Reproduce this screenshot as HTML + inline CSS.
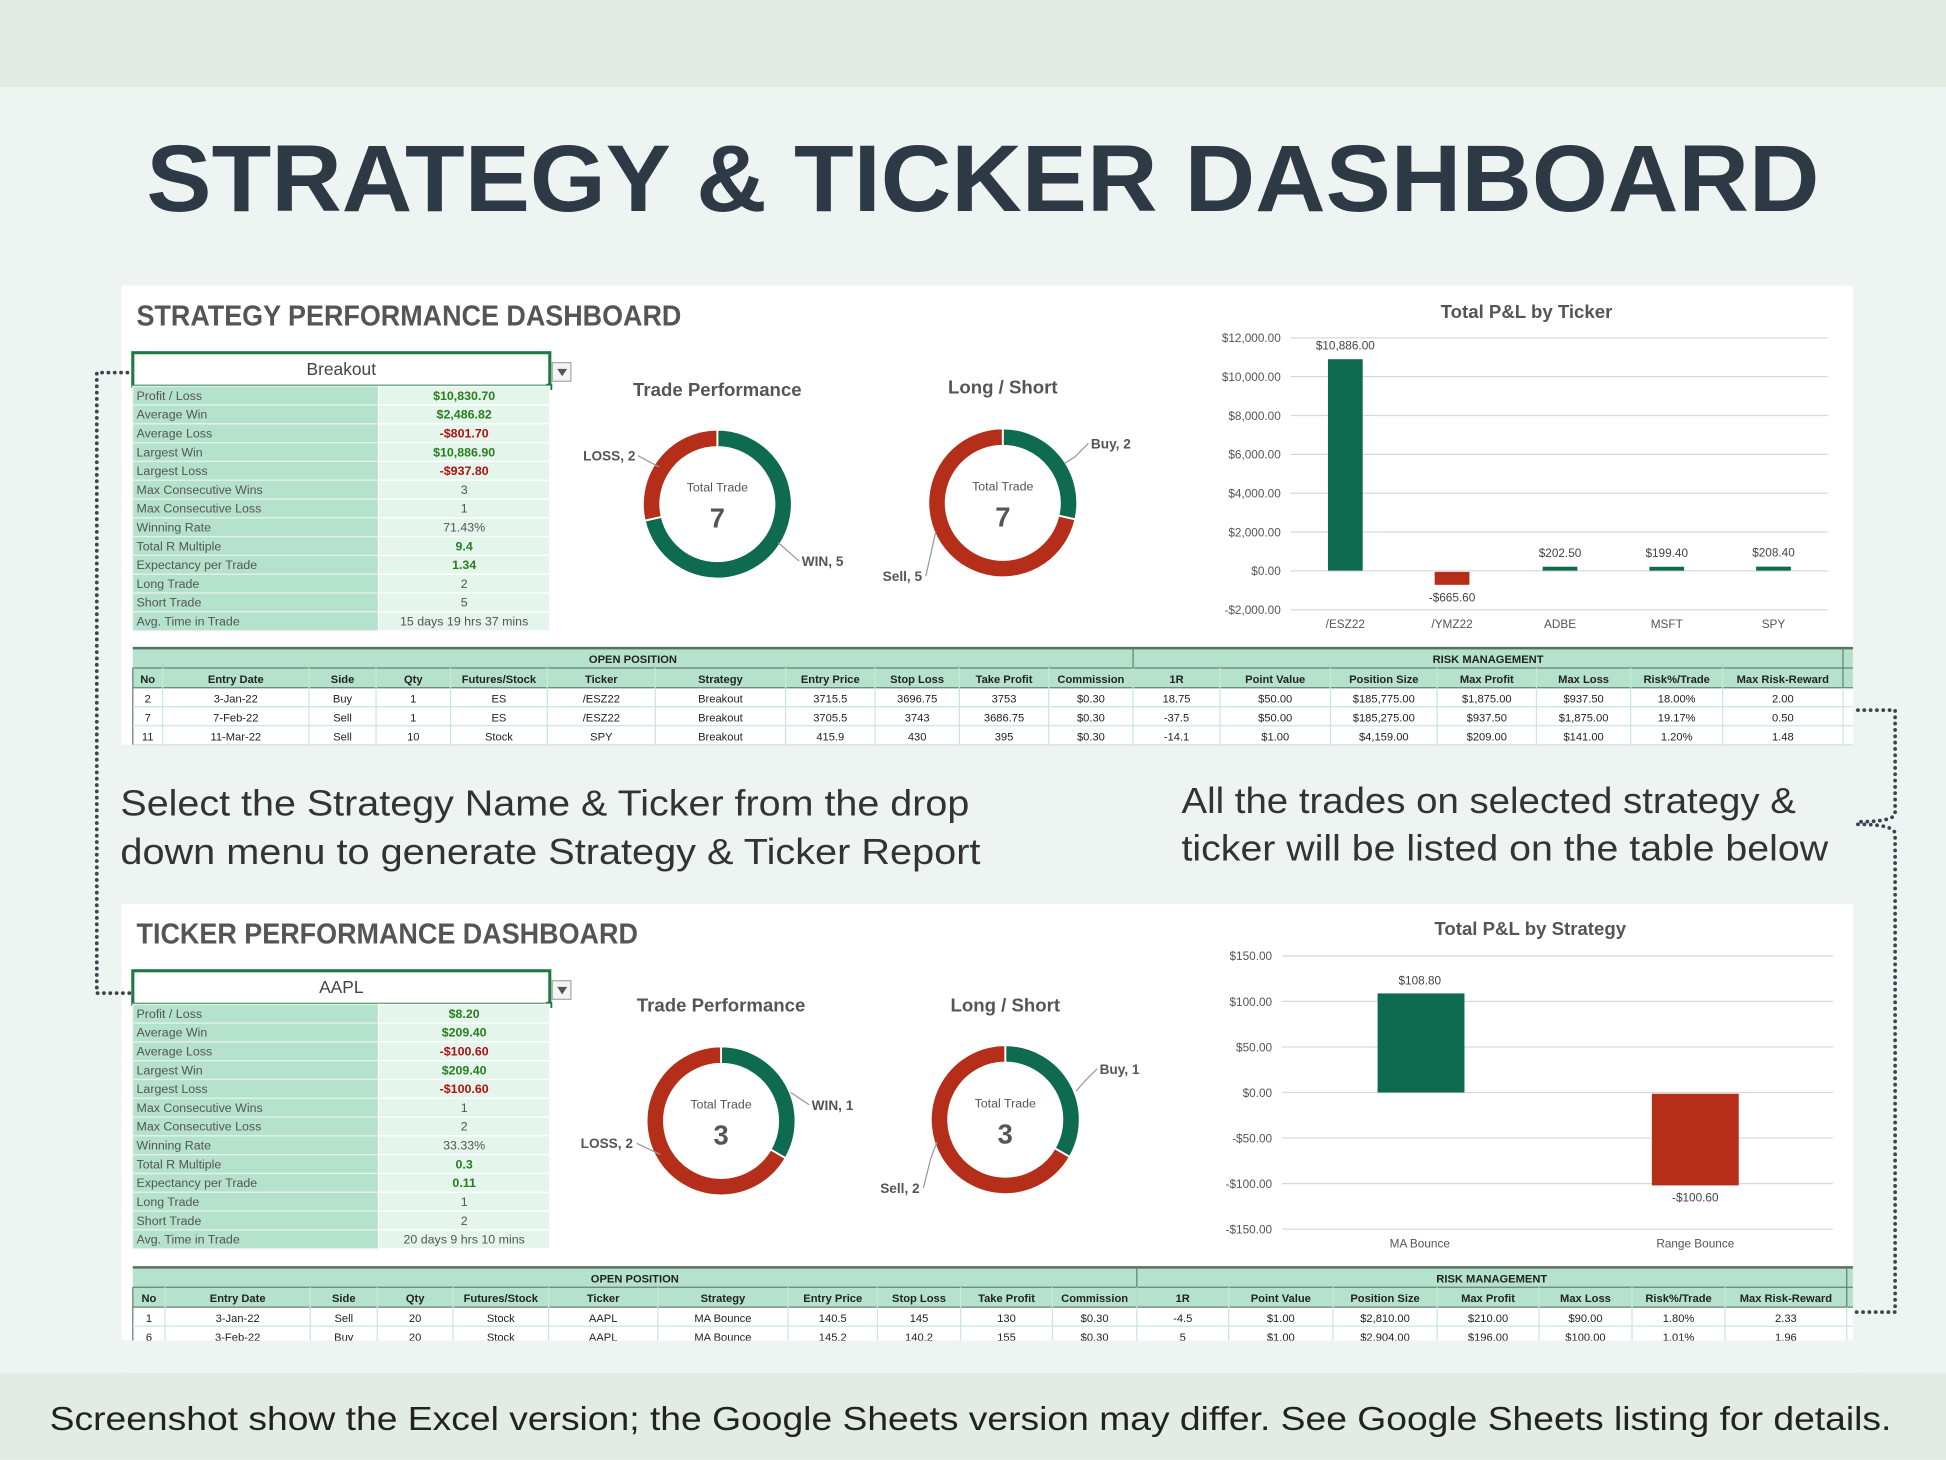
<!DOCTYPE html>
<html><head><meta charset="utf-8"><style>
html,body{margin:0;padding:0;background:#eef4f1;}
svg{display:block}
text{font-family:"Liberation Sans",sans-serif}
.n{font-family:"Liberation Sans Narrow","Liberation Sans",sans-serif}
</style></head><body>
<svg id="s" width="1946" height="1460" viewBox="0 0 1568 1176" xmlns="http://www.w3.org/2000/svg">
<rect width="1568" height="1176" fill="#eef4f1"/>
<rect width="1568" height="70" fill="#e2ece5"/>
<rect y="1106" width="1568" height="70" fill="#e2ece5"/>
<text x="792" y="170" text-anchor="middle" font-size="76" font-weight="bold" fill="#2d3945" textLength="1348" lengthAdjust="spacingAndGlyphs">STRATEGY &amp; TICKER DASHBOARD</text>
<rect x="98" y="230" width="1395" height="370" fill="#fff"/>
<rect x="98" y="728" width="1395" height="352" fill="#fff"/>
<text x="110" y="262" font-size="23" font-weight="bold" fill="#555" class="n" textLength="439" lengthAdjust="spacingAndGlyphs">STRATEGY PERFORMANCE DASHBOARD</text>
<text x="110" y="760" font-size="23" font-weight="bold" fill="#555" class="n" textLength="404" lengthAdjust="spacingAndGlyphs">TICKER PERFORMANCE DASHBOARD</text>
<g fill="#333" font-size="29">
<text x="97" y="657" textLength="684" lengthAdjust="spacingAndGlyphs">Select the Strategy Name &amp; Ticker from the drop</text>
<text x="97" y="696" textLength="693" lengthAdjust="spacingAndGlyphs">down menu to generate Strategy &amp; Ticker Report</text>
<text x="952" y="655" textLength="495" lengthAdjust="spacingAndGlyphs">All the trades on selected strategy &amp;</text>
<text x="952" y="693" textLength="521" lengthAdjust="spacingAndGlyphs">ticker will be listed on the table below</text>
</g>
<text x="40" y="1152" font-size="27" fill="#222" textLength="1484" lengthAdjust="spacingAndGlyphs">Screenshot show the Excel version; the Google Sheets version may differ.   See Google Sheets listing for details.</text>
<g fill="none" stroke="#3a4550" stroke-width="3" stroke-dasharray="0.1 5" stroke-linecap="round">
<path d="M118 300 H78 V800 H118"/>
<path d="M1497 572 H1527 V655 Q1527 662 1495 662"/>
<path d="M1497 664 Q1527 664 1527 672 V1057 H1495"/>
</g>
<g id="dyn"></g>
</svg>
<script>
const NS="http://www.w3.org/2000/svg",G=document.getElementById('dyn');
function el(t,a,txt){const e=document.createElementNS(NS,t);for(const k in a)e.setAttribute(k,a[k]);if(txt!==undefined)e.textContent=txt;G.appendChild(e);return e;}
function tx(x,y,s,o){o=o||{};return el('text',Object.assign({x:x,y:y,'font-size':o.fs||10,fill:o.fill||'#333','text-anchor':o.a||'middle','font-weight':o.fw||'normal',class:o.cls||''},o.extra||{}),s);}
function stats(y0,name,vals){
  el('rect',{x:107,y:y0,width:336,height:27,fill:'#fff',stroke:'#1e7a45','stroke-width':2.5});
  tx(275,y0+18,name,{fs:14,fill:'#444',cls:'n'});
  el('rect',{x:445,y:y0+8,width:15,height:15,fill:'#f4f4f4',stroke:'#aaa'});
  el('path',{d:`M449 ${y0+13} h8 l-4 6z`,fill:'#555'});
  el('rect',{x:440,y:y0+25,width:5,height:5,fill:'#1e7a45'});
  const labels=['Profit / Loss','Average Win','Average Loss','Largest Win','Largest Loss','Max Consecutive Wins','Max Consecutive Loss','Winning Rate','Total R Multiple','Expectancy per Trade','Long Trade','Short Trade','Avg. Time in Trade'];
  const h=15.15,y1=y0+27;
  labels.forEach((l,i)=>{const y=y1+i*h;
    el('rect',{x:107,y:y,width:198,height:h,fill:'#b5e2cc',stroke:'#e6f3ec','stroke-width':1});
    el('rect',{x:305,y:y,width:138,height:h,fill:'#e4f5eb',stroke:'#fff','stroke-width':1});
    tx(110,y+11,l,{fs:10,fill:'#555',a:'start',cls:'n'});
    const v=vals[i];let c='#555',fw='normal';
    if([0,1,3,8,9].includes(i)){c='#2a7d1e';fw='bold'} if([2,4].includes(i)){c='#b01010';fw='bold'}
    tx(374,y+11,v,{fs:10,fill:c,fw:fw,cls:'n'});
  });
}
stats(284,'Breakout',['$10,830.70','$2,486.82','-$801.70','$10,886.90','-$937.80','3','1','71.43%','9.4','1.34','2','5','15 days 19 hrs 37 mins']);
stats(782,'AAPL',['$8.20','$209.40','-$100.60','$209.40','-$100.60','1','2','33.33%','0.3','0.11','1','2','20 days 9 hrs 10 mins']);
function arc(cx,cy,r1,r2,a0,a1,c){const p=a=>[Math.sin(a*Math.PI/180),-Math.cos(a*Math.PI/180)];
  const [s0,c0]=p(a0),[s1,c1]=p(a1),lg=(a1-a0)>180?1:0;
  el('path',{d:`M${cx+r2*s0} ${cy+r2*c0} A${r2} ${r2} 0 ${lg} 1 ${cx+r2*s1} ${cy+r2*c1} L${cx+r1*s1} ${cy+r1*c1} A${r1} ${r1} 0 ${lg} 0 ${cx+r1*s0} ${cy+r1*c0}Z`,fill:c,stroke:'#fff','stroke-width':1.5});}
function donut(cx,cy,gFrac,title,tot,ty,lbls){
  tx(cx,ty,title,{fs:15,fill:'#555',fw:'bold'});
  const ga=360*gFrac;
  arc(cx,cy,46,60,0,ga,'#0e6b4f');arc(cx,cy,46,60,ga,360,'#b52e1a');
  tx(cx,cy-10,'Total Trade',{fs:10,fill:'#555',cls:'n'});
  tx(cx,cy+19,tot,{fs:22,fill:'#555',fw:'bold'});
  lbls.forEach(l=>{tx(l[0],l[1],l[2],{fs:11,fill:'#555',a:l[3],fw:'bold',cls:'n'});el('path',{d:l[4],stroke:'#999',fill:'none'});});
}
donut(578,406,5/7,'Trade Performance','7',319,[[512,371,'LOSS, 2','end','M514 367 L531 376'],[646,456,'WIN, 5','start','M644 452 L627 437']]);
donut(808,405,2/7,'Long / Short','7',317,[[879,361,'Buy, 2','start','M877 357 L866 368 L858 373'],[743,468,'Sell, 5','end','M746 464 L752 437 L754 428']]);
donut(581,903,1/3,'Trade Performance','3',815,[[654,894,'WIN, 1','start','M652 890 L637 880'],[510,925,'LOSS, 2','end','M513 921 L532 930']]);
donut(810,902,1/3,'Long / Short','3',815,[[886,865,'Buy, 1','start','M884 861 L874 871 L867 879'],[741,961,'Sell, 2','end','M744 957 L750 933 L755 920']]);
tx(1230,256,'Total P&L by Ticker',{fs:15,fill:'#555',fw:'bold'});
for(let i=0;i<8;i++){const v=12000-2000*i,y=272+i*31.3;
  el('line',{x1:1040,x2:1473,y1:y,y2:y,stroke:'#d9d9d9'});
  tx(1032,y+3.5,(v<0?'-':'')+'$'+Math.abs(v).toLocaleString('en-US')+'.00',{fs:9.5,fill:'#555',a:'end'});}
const z=459.6,k=31.3/2000;
[['/ESZ22',1084,10886,'$10,886.00'],['/YMZ22',1170,-665.6,'-$665.60'],['ADBE',1257,202.5,'$202.50'],['MSFT',1343,199.4,'$199.40'],['SPY',1429,208.4,'$208.40']].forEach(d=>{
  const neg=d[2]<0,hh=Math.abs(d[2])*k;
  el('rect',{x:d[1]-14,y:neg?z+1:z-Math.max(hh,3),width:28,height:Math.max(hh,3),fill:neg?'#b52e1a':'#0e6b4f'});
  tx(d[1],neg?z+25:z-Math.max(hh,3)-8,d[3],{fs:9.5,fill:'#444'});
  tx(d[1],506,d[0],{fs:9.5,fill:'#555'});});
tx(1233,753,'Total P&L by Strategy',{fs:15,fill:'#555',fw:'bold'});
for(let i=0;i<7;i++){const v=150-50*i,y=770+i*36.7;
  el('line',{x1:1033,x2:1477,y1:y,y2:y,stroke:'#d9d9d9'});
  tx(1025,y+3.5,(v<0?'-':'')+'$'+Math.abs(v)+'.00',{fs:9.5,fill:'#555',a:'end'});}
const z2=880.1,k2=36.7/50;
el('rect',{x:1110,y:z2-108.8*k2,width:70,height:108.8*k2,fill:'#0e6b4f'});
el('rect',{x:1331,y:z2+1,width:70,height:100.6*k2,fill:'#b52e1a'});
tx(1144,793,'$108.80',{fs:9.5,fill:'#444'});tx(1366,968,'-$100.60',{fs:9.5,fill:'#444'});
tx(1144,1005,'MA Bounce',{fs:9.5,fill:'#555'});tx(1366,1005,'Range Bounce',{fs:9.5,fill:'#555'});
const hdr=['No','Entry Date','Side','Qty','Futures/Stock','Ticker','Strategy','Entry Price','Stop Loss','Take Profit','Commission','1R','Point Value','Position Size','Max Profit','Max Loss','Risk%/Trade','Max Risk-Reward'];
function table(y0,b,rows,clip){
  const R=b[b.length-1];
  el('rect',{x:107,y:y0,width:1386,height:32,fill:'#b5e2cc'});
  el('line',{x1:107,x2:1493,y1:y0,y2:y0,stroke:'#5a6e65','stroke-width':2});
  el('line',{x1:107,x2:1493,y1:y0+16,y2:y0+16,stroke:'#6b7f76'});
  el('line',{x1:107,x2:1493,y1:y0+32,y2:y0+32,stroke:'#6b7f76'});
  tx((107+b[11])/2,y0+12,'OPEN POSITION',{fs:9,fw:'bold',fill:'#222',cls:'n'});
  tx((b[11]+R)/2,y0+12,'RISK MANAGEMENT',{fs:9,fw:'bold',fill:'#222',cls:'n'});
  el('line',{x1:b[11],x2:b[11],y1:y0,y2:y0+32,stroke:'#6b7f76'});
  el('line',{x1:R,x2:R,y1:y0,y2:y0+32,stroke:'#6b7f76'});
  hdr.forEach((h,i)=>{tx((b[i]+b[i+1])/2,y0+28,h,{fs:9,fw:'bold',fill:'#222',cls:'n'});
    el('line',{x1:b[i],x2:b[i],y1:y0+16,y2:clip,stroke:i==0?'#6b7f76':'#c9e8d7'});});
  rows.forEach((r,j)=>{const y=y0+32+j*15.3;
    r.forEach((c,i)=>tx((b[i]+b[i+1])/2,y+12,c,{fs:9,fill:'#222',cls:'n'}));
    el('line',{x1:107,x2:1493,y1:y+15.3,y2:y+15.3,stroke:'#c9e8d7'});});
  el('line',{x1:R,x2:R,y1:y0+32,y2:clip,stroke:'#c9e8d7'});
}
table(522,[107,131,249,303,363,441,528,633,705,773,845,913,983,1072,1158,1238,1314,1388,1485],[
['2','3-Jan-22','Buy','1','ES','/ESZ22','Breakout','3715.5','3696.75','3753','$0.30','18.75','$50.00','$185,775.00','$1,875.00','$937.50','18.00%','2.00'],
['7','7-Feb-22','Sell','1','ES','/ESZ22','Breakout','3705.5','3743','3686.75','$0.30','-37.5','$50.00','$185,275.00','$937.50','$1,875.00','19.17%','0.50'],
['11','11-Mar-22','Sell','10','Stock','SPY','Breakout','415.9','430','395','$0.30','-14.1','$1.00','$4,159.00','$209.00','$141.00','1.20%','1.48']],600);
table(1021,[107,133,250,304,365,442,530,635,707,774,848,916,990,1074,1158,1240,1315,1390,1488],[
['1','3-Jan-22','Sell','20','Stock','AAPL','MA Bounce','140.5','145','130','$0.30','-4.5','$1.00','$2,810.00','$210.00','$90.00','1.80%','2.33'],
['6','3-Feb-22','Buy','20','Stock','AAPL','MA Bounce','145.2','140.2','155','$0.30','5','$1.00','$2,904.00','$196.00','$100.00','1.01%','1.96']],1080);
el('rect',{x:98,y:1080,width:1400,height:26,fill:'#eef4f1'});
</script>
</body></html>
